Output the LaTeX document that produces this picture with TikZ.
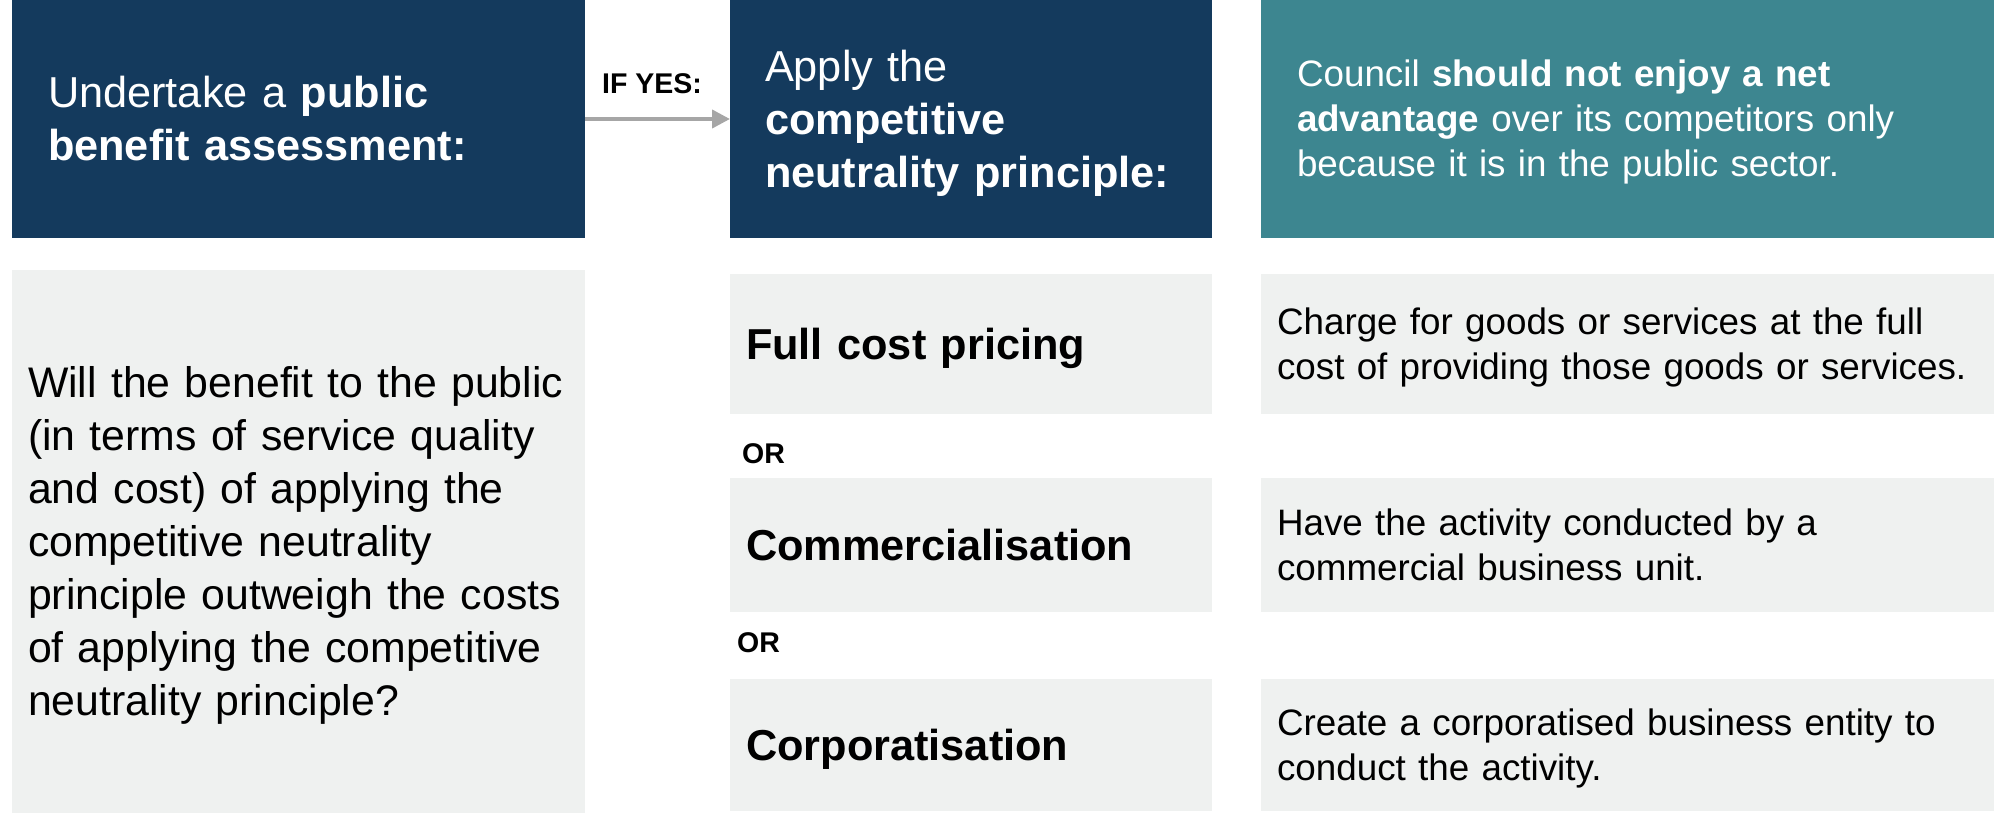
\documentclass[tikz,border=0pt]{standalone}
\usepackage{fontspec}
\setmainfont{Liberation Sans}
\usepackage{xcolor}
\usetikzlibrary{arrows.meta}

\definecolor{navyblue}{HTML}{143A5D}
\definecolor{tealblue}{HTML}{3D8690}
\definecolor{palegrey}{HTML}{EFF1F0}
\definecolor{arrowgrey}{HTML}{A6A6A6}

\newcommand{\bigtext}{\fontsize{43.3}{53}\selectfont}
\newcommand{\bodytext}{\fontsize{42.8}{53}\selectfont}
\newcommand{\midtext}{\fontsize{36.8}{45}\selectfont}
\newcommand{\smalltext}{\fontsize{28.5}{34}\selectfont}
% fixed line box, as the slide software does
\newcommand{\linebox}{\rule[-0.212em]{0pt}{1.117em}}

\begin{document}
\begin{tikzpicture}[x=1pt, y=-1pt,
		top_box/.style={fill=navyblue, text=white, anchor=north west, outer sep=0pt, inner ysep=0pt, inner xsep=36pt, align=left, minimum height=238pt, font=\bigtext},
		grey_box/.style={fill=palegrey, text=black, anchor=north west, outer sep=0pt, inner ysep=0pt, inner xsep=16pt, align=left},
		or_label/.style={anchor=west, inner sep=0pt, font=\smalltext\bfseries},
		yes_arrow/.style={draw=arrowgrey, line width=4pt, -{Triangle[length=18pt, width=18pt]}}]
		\useasboundingbox (0,0) rectangle (2007,813);

		% Top row
		\node[top_box, text width=501pt] (box_assess) at (12,0) {
				\linebox Undertake a \textbf{public}\\
				\textbf{benefit assessment:}\linebox
			};
		\node[top_box, inner xsep=35pt, text width=412pt] (box_apply) at (730,0) {
				\linebox Apply the\\
				\textbf{competitive}\\
				\textbf{neutrality principle:}\linebox
			};
		\node[top_box, fill=tealblue, font=\midtext, text width=661pt] (box_advantage) at (1261,0) {
				\linebox Council \textbf{should not enjoy a net}\\
				\textbf{advantage} over its competitors only\\
				because it is in the public sector.\linebox
			};

		% Arrow between top boxes
		\draw[yes_arrow] (box_assess) -- (box_apply);
		\node[font=\smalltext\bfseries, inner sep=0pt] (if_yes) at (652,84) {IF YES:};

		% Question box
		\node[grey_box, font=\bodytext, text width=541pt, minimum height=543pt] (box_question) at (12,270) {
				\linebox Will the benefit to the public\\
				(in terms of service quality\\
				and cost) of applying the\\
				competitive neutrality\\
				principle outweigh the costs\\
				of applying the competitive\\
				neutrality principle?\linebox
			};

		% Options
		\node[grey_box, font=\bigtext\bfseries, text width=450pt, minimum height=140pt] (box_full) at (730,274) {\linebox Full cost pricing};
		\node[or_label] (or_one) at (742,454) {OR};
		\node[grey_box, font=\bigtext\bfseries, text width=450pt, minimum height=134pt] (box_comm) at (730,478) {\linebox Commercialisation};
		\node[or_label] (or_two) at (737,643) {OR};
		\node[grey_box, font=\bigtext\bfseries, text width=450pt, minimum height=132pt] (box_corp) at (730,679) {\linebox Corporatisation};

		% Descriptions
		\node[grey_box, font=\midtext, text width=701pt, minimum height=140pt] (desc_full) at (1261,274) {
				\linebox Charge for goods or services at the full\\
				cost of providing those goods or services.\linebox
			};
		\node[grey_box, font=\midtext, text width=701pt, minimum height=134pt] (desc_comm) at (1261,478) {
				\linebox Have the activity conducted by a\\
				commercial business unit.\linebox
			};
		\node[grey_box, font=\midtext, text width=701pt, minimum height=132pt] (desc_corp) at (1261,679) {
				\linebox Create a corporatised business entity to\\
				conduct the activity.\linebox
			};
	\end{tikzpicture}
\end{document}
